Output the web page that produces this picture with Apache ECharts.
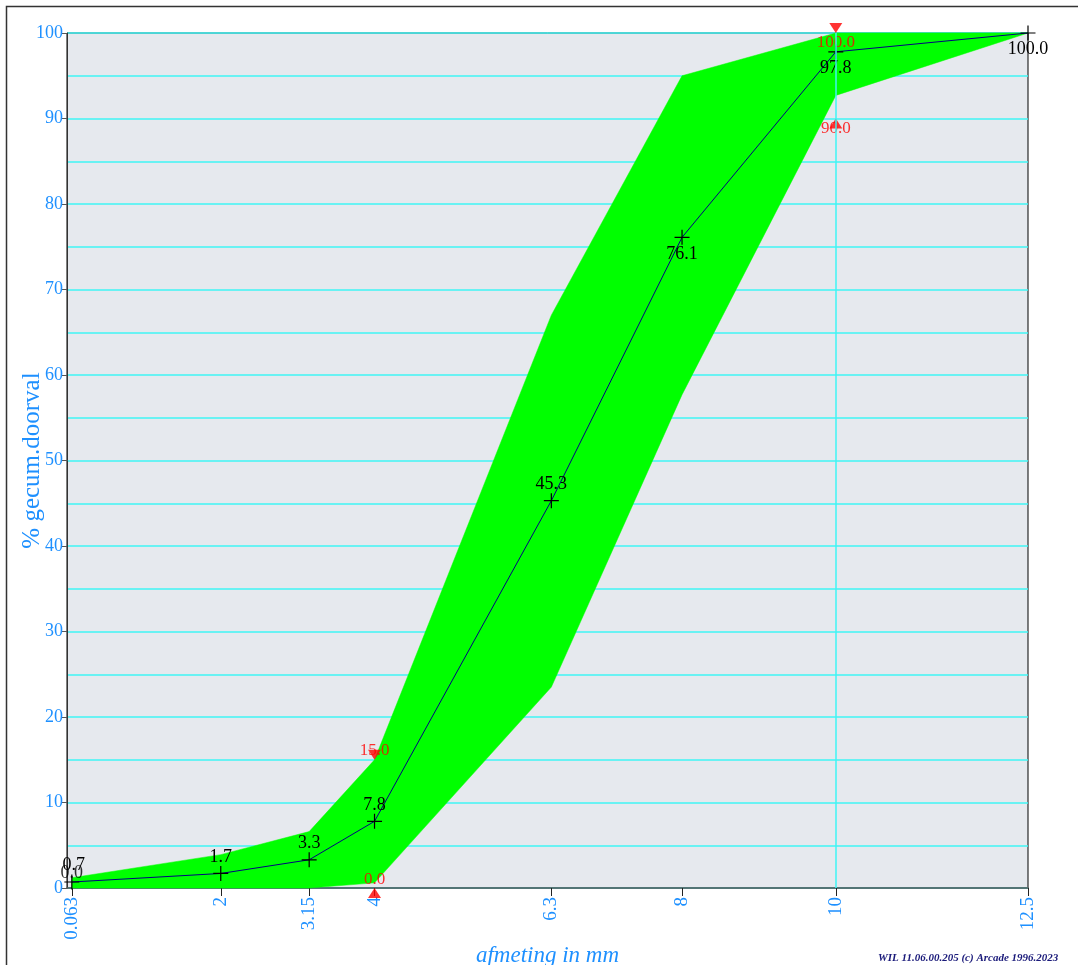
<!DOCTYPE html>
<html><head><meta charset="utf-8">
<script src="https://cdn.jsdelivr.net/npm/echarts@6/dist/echarts.min.js"></script>
<style>html,body{margin:0;padding:0;background:#fff}#c{width:1078px;height:965px}</style>
</head><body><div id="c"></div>
<script>
// ---- data ----
const sieves = [0.063, 2, 3.15, 4, 6.3, 8, 10, 12.5];
const sieveLabels = ['0.063', '2', '3.15', '4', '6.3', '8', '10', '12.5'];
const passing = [0.7, 1.7, 3.3, 7.8, 45.3, 76.1, 97.8, 100.0];
const bandUpper = [1.2, 3.9, 6.6, 15.0, 67.0, 95.0, 100.0, 100.0];
const bandLower = [0.0, 0.0, 0.0, 0.6, 23.5, 57.7, 92.7, 100.0];
const limitSieves = [4, 10];
const limitUpper = [15.0, 100.0];
const limitLower = [0.0, 90.0];
const panX = [0.063];
const panValue = [0.0];

// ---- styling helpers (not data) ----
const labelBelow = [false, false, false, false, false, true, true, true];
const FONT = 'Liberation Serif';
const BLUE = '#1e90ff';
const crossSym = 'path://M0,4.6H10V5.4H0ZM4.6,0H5.4V10H4.6Z';

const bandPts = sieves.map((s, i) => [s, bandLower[i], bandUpper[i]]);
const lineData = sieves.map((s, i) => ({
  value: [s, passing[i]],
  label: { position: labelBelow[i] ? 'bottom' : 'top', offset: i === 0 ? [2, 0] : [0, 0] }
}));
const upData = limitSieves.map((s, i) => [s, limitLower[i]]);
const downData = limitSieves.map((s, i) => [s, limitUpper[i]]);

const chart = echarts.init(document.getElementById('c'), null, { renderer: 'canvas' });
chart.setOption({
  animation: false,
  textStyle: { fontFamily: FONT },
  grid: { left: 67, right: 50, top: 33, bottom: 77, containLabel: false, outerBoundsMode: 'none',
          show: true, backgroundColor: '#e6e9ee', borderColor: '#000', borderWidth: 1 },
  graphic: [
    { type: 'rect', shape: { x: 6.5, y: 6.5, width: 1200, height: 1200 }, style: { fill: 'none', stroke: '#333', lineWidth: 1.5 }, z: -10 },
    { type: 'text', left: 878, top: 953, style: { text: 'WIL 11.06.00.205 (c) Arcade 1996.2023', fill: '#1a1a7a', font: 'italic bold 11px "Liberation Serif"' } }
  ],
  xAxis: {
    type: 'value', min: 0, max: 12.5,
    name: 'afmeting in mm', nameLocation: 'middle', nameGap: 56, nameMoveOverlap: false,
    nameTextStyle: { color: BLUE, fontSize: 23, fontStyle: 'italic', fontFamily: FONT },
    axisLine: { lineStyle: { color: '#555', width: 1.5 } },
    axisTick: { show: true, customValues: sieves, length: 8, lineStyle: { color: '#222' } },
    axisLabel: {
      customValues: sieves, rotate: 90, margin: 9, color: BLUE, fontSize: 19, fontFamily: FONT,
      formatter: v => { const i = sieves.indexOf(v); return i >= 0 ? sieveLabels[i] : ''; }
    },
    splitLine: { show: false }
  },
  yAxis: [{
    type: 'value', min: 0, max: 100, interval: 10,
    name: '% gecum.doorval', nameLocation: 'middle', nameGap: 22, nameMoveOverlap: false,
    nameTextStyle: { color: BLUE, fontSize: 25, fontFamily: FONT },
    axisLine: { show: true, lineStyle: { color: '#333' } },
    axisTick: { show: true, length: 5, lineStyle: { color: '#555' } },
    axisLabel: { color: BLUE, fontSize: 18, margin: 4, fontFamily: FONT },
    splitLine: { show: false }
  }, {
    type: 'value', min: 0, max: 100, interval: 5, position: 'left',
    axisLine: { show: false }, axisTick: { show: false }, axisLabel: { show: false },
    splitLine: { show: true, lineStyle: { color: '#3ff4f4', width: 1.5 } }
  }],
  series: [
    {
      type: 'custom', name: 'band', silent: true, z: 1,
      renderItem: (params, api) => {
        if (params.dataIndex !== 0) return;
        const top = bandPts.map(p => api.coord([p[0], p[2]]));
        const bot = bandPts.slice().reverse().map(p => api.coord([p[0], p[1]]));
        return { type: 'polygon', shape: { points: top.concat(bot) }, style: { fill: '#00ff00', stroke: '#00ff00', lineWidth: 0.5 } };
      },
      data: bandPts
    },
    {
      type: 'line', name: 'doorval', z: 3,
      data: lineData,
      lineStyle: { color: '#000080', width: 1 },
      symbol: crossSym, symbolSize: 15,
      itemStyle: { color: '#000' },
      label: { show: true, color: '#000', fontSize: 18, fontFamily: FONT, distance: 0, formatter: p => p.value[1].toFixed(1) },
      markLine: {
        silent: true, symbol: 'none', label: { show: false },
        lineStyle: { color: '#3ff4f4', type: 'solid', width: 1.5 },
        data: [{ xAxis: 10 }]
      }
    },
    {
      type: 'scatter', name: 'pan', z: 5,
      data: panX.map((x, i) => [x, panValue[i]]),
      symbol: 'circle', symbolSize: 2, itemStyle: { color: 'rgba(0,0,0,0)' },
      labelLayout: { hideOverlap: false },
      label: { show: true, position: 'top', offset: [-7, -1], color: '#000', fontSize: 18, fontFamily: FONT, formatter: p => p.value[1].toFixed(1) }
    },
    {
      type: 'scatter', name: 'max', z: 4,
      data: downData.map((d, i) => ({ value: d, label: { offset: [0, i === 0 ? -4 : 15] } })),
      symbol: 'triangle', symbolRotate: 180, symbolSize: [13, 10], symbolOffset: [0, -5],
      itemStyle: { color: '#ff0000' },
      label: { show: true, position: 'inside', color: '#ff0000', fontSize: 17, fontFamily: FONT, formatter: p => p.value[1].toFixed(1) }
    },
    {
      type: 'scatter', name: 'min', z: 4,
      data: upData.map((d, i) => ({ value: d, label: { offset: [0, i === 0 ? -13 : 5] } })),
      symbol: 'triangle', symbolSize: [13, 10], symbolOffset: [0, 5],
      itemStyle: { color: '#ff0000' },
      label: { show: true, position: 'inside', color: '#ff0000', fontSize: 17, fontFamily: FONT, formatter: p => p.value[1].toFixed(1) }
    }
  ]
});
</script></body></html>
